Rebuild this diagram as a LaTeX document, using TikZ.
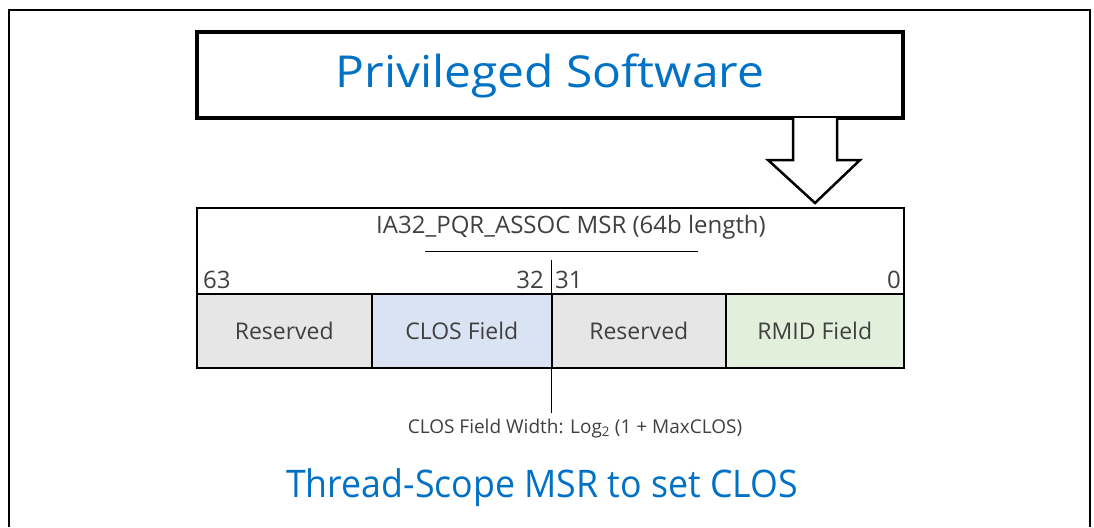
\documentclass[tikz,border=0pt]{standalone}
\usepackage{fontspec}
\setmainfont{Open Sans}
\usetikzlibrary{calc}
\definecolor{intelblue}{HTML}{0071C5}
\definecolor{txtgray}{HTML}{404040}
\definecolor{resgray}{HTML}{E7E6E6}
\definecolor{closblue}{HTML}{DAE3F3}
\definecolor{rmidgreen}{HTML}{E2EFDA}
\tikzset{
  fieldbox/.style={draw=black, line width=1.6pt, minimum height=74pt, inner sep=0pt, text=txtgray,
     font=\fontsize{23}{27}\selectfont},
  bitlabel/.style={inner sep=0pt, text=txtgray, font=\fontsize{24}{28}\selectfont},
  bluetitle/.style={inner sep=0pt, text=intelblue},
}
\begin{document}
\begin{tikzpicture}[x=1pt,y=-1pt]
\useasboundingbox (0,0) rectangle (1094,527);
% outer frame (open at bottom)
\draw[line width=2.5pt] (9,527) -- (9,10) -- (1090,10) -- (1090,527);
% privileged software box
\node[draw=black, line width=3.5pt, minimum width=706pt, minimum height=86pt, inner sep=0pt] (priv) at (550,75) {};
\node[bluetitle, anchor=base, font=\fontsize{44}{52}\selectfont] (privtxt) at (550,87) {\scalebox{1.09}[1]{Privileged Software}};
% register outer box
\node[draw=black, line width=1.6pt, minimum width=707pt, minimum height=160pt, inner sep=0pt, anchor=north west] (reg) at (196,207) {};
% fields
\node[fieldbox, fill=resgray, minimum width=175pt, anchor=north west] (f1) at (196,293) {Reserved};
\node[fieldbox, fill=closblue, minimum width=180pt, anchor=north west] (f2) at (371,293) {CLOS Field};
\node[fieldbox, fill=resgray, minimum width=174pt, anchor=north west] (f3) at (551,293) {Reserved};
\node[fieldbox, fill=rmidgreen, minimum width=178pt, anchor=north west] (f4) at (725,293) {RMID Field};
% arrow from privileged software to register
\coordinate (ac) at (815,118);
\draw[line width=2.5pt, fill=white, line join=miter]
  ($(ac)+(-22,0)$) -- ($(ac)+(-22,42)$) -- ($(ac)+(-47,42)$) -- ($(reg.north west)+(619,-4)$)
  -- ($(ac)+(45,42)$) -- ($(ac)+(22,42)$) -- ($(ac)+(22,0)$);
% register title
\node[bitlabel, anchor=base] (regtitle) at (571,233) {IA32\_PQR\_ASSOC MSR (64b length)};
\coordinate (ul1) at (425,251);
\coordinate (ul2) at (698,251);
\draw[line width=1pt] (ul1) -- (ul2);
% bit labels
\node[bitlabel, anchor=base west] (b63) at (203,288) {63};
\node[bitlabel, anchor=base east] (b32) at (544,288) {32};
\node[bitlabel, anchor=base west] (b31) at (555,288) {31};
\node[bitlabel, anchor=base east] (b0) at (901,288) {0};
% footnote
\node[inner sep=0pt, anchor=base, text=txtgray, font=\fontsize{19}{22}\selectfont] (foot) at (575,433)
  {CLOS Field Width: Log\textsubscript{2} (1 + MaxCLOS)};
\coordinate (vtop) at (551,260);
\draw[line width=1pt] (vtop) -- ($(vtop |- foot.north)+(0,-5)$);
% bottom title
\node[bluetitle, anchor=base, font=\fontsize{38}{44}\selectfont] (bottitle) at (542,497)
  {\scalebox{0.94}[1]{Thread-Scope MSR to set CLOS}};
\end{tikzpicture}
\end{document}
